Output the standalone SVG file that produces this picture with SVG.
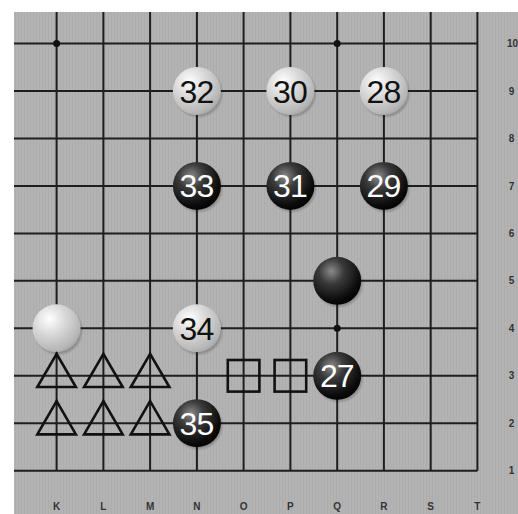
<svg xmlns="http://www.w3.org/2000/svg" width="518" height="514" viewBox="0 0 518 514">
<defs>
<pattern id="stripes" width="3" height="10" patternUnits="userSpaceOnUse">
<rect width="3" height="10" fill="#b3b3b3"/>
<rect x="0" width="1" height="10" fill="#adadad"/>
</pattern>
<radialGradient id="gw" cx="0.35" cy="0.3" r="0.75">
<stop offset="0" stop-color="#ffffff"/>
<stop offset="0.45" stop-color="#d8d8d8"/>
<stop offset="0.9" stop-color="#b5b5b5"/>
<stop offset="1" stop-color="#a5a5a5"/>
</radialGradient>
<radialGradient id="gb" cx="0.38" cy="0.3" r="0.75">
<stop offset="0" stop-color="#8a8a8a"/>
<stop offset="0.35" stop-color="#3a3a3a"/>
<stop offset="0.8" stop-color="#0c0c0c"/>
<stop offset="1" stop-color="#000000"/>
</radialGradient>
<radialGradient id="sh" cx="0.5" cy="0.5" r="0.5">
<stop offset="0.8" stop-color="#000" stop-opacity="0.3"/>
<stop offset="1" stop-color="#000" stop-opacity="0"/>
</radialGradient>
</defs>
<style>
.grid line{stroke:#1e1e1e;stroke-width:2}
.star{fill:#111}
.sw{fill:url(#gw)}
.sb{fill:url(#gb)}
.shadow{fill:url(#sh)}
.num{font-family:"Liberation Sans",Arial,sans-serif;font-size:32px;text-anchor:middle;letter-spacing:-1px}
.nw{fill:#111}
.nb{fill:#fff}
.mark{fill:none;stroke:#111;stroke-width:2.6;stroke-linejoin:miter}
.lbl{font-family:"Liberation Sans",Arial,sans-serif;font-size:10px;font-weight:bold;fill:#333;text-anchor:middle}
</style>
<rect x="0" y="0" width="518" height="514" fill="#ffffff"/>
<rect x="14" y="12" width="504" height="502" fill="url(#stripes)"/>
<g id="connectors" class="grid">
<line x1="56.6" y1="12" x2="56.6" y2="470.7"/>
<line x1="103.4" y1="12" x2="103.4" y2="470.7"/>
<line x1="150.1" y1="12" x2="150.1" y2="470.7"/>
<line x1="196.9" y1="12" x2="196.9" y2="470.7"/>
<line x1="243.6" y1="12" x2="243.6" y2="470.7"/>
<line x1="290.4" y1="12" x2="290.4" y2="470.7"/>
<line x1="337.2" y1="12" x2="337.2" y2="470.7"/>
<line x1="383.9" y1="12" x2="383.9" y2="470.7"/>
<line x1="430.7" y1="12" x2="430.7" y2="470.7"/>
<line x1="477.4" y1="12" x2="477.4" y2="470.7"/>
<line x1="14" y1="43.6" x2="477.4" y2="43.6"/>
<line x1="14" y1="91" x2="477.4" y2="91"/>
<line x1="14" y1="138.5" x2="477.4" y2="138.5"/>
<line x1="14" y1="185.9" x2="477.4" y2="185.9"/>
<line x1="14" y1="233.4" x2="477.4" y2="233.4"/>
<line x1="14" y1="280.8" x2="477.4" y2="280.8"/>
<line x1="14" y1="328.3" x2="477.4" y2="328.3"/>
<line x1="14" y1="375.8" x2="477.4" y2="375.8"/>
<line x1="14" y1="423.2" x2="477.4" y2="423.2"/>
<line x1="14" y1="470.7" x2="477.4" y2="470.7"/>
</g>
<g id="stars">
<circle class="star" cx="56.6" cy="43.6" r="3.5"/>
<circle class="star" cx="337.2" cy="43.6" r="3.5"/>
<circle class="star" cx="337.2" cy="328.3" r="3.5"/>
</g>
<g id="w32"><circle class="shadow" cx="198.5" cy="93" r="25.5"/><circle class="sw" cx="196.9" cy="91" r="24"/><text class="num nw" x="196.4" y="102.5">32</text></g>
<g id="w30"><circle class="shadow" cx="292" cy="93" r="25.5"/><circle class="sw" cx="290.4" cy="91" r="24"/><text class="num nw" x="289.9" y="102.5">30</text></g>
<g id="w28"><circle class="shadow" cx="385.5" cy="93" r="25.5"/><circle class="sw" cx="383.9" cy="91" r="24"/><text class="num nw" x="383.4" y="102.5">28</text></g>
<g id="b33"><circle class="shadow" cx="198.5" cy="188" r="25.5"/><circle class="sb" cx="196.9" cy="185.9" r="24"/><text class="num nb" x="196.4" y="197.4">33</text></g>
<g id="b31"><circle class="shadow" cx="292" cy="188" r="25.5"/><circle class="sb" cx="290.4" cy="185.9" r="24"/><text class="num nb" x="289.9" y="197.4">31</text></g>
<g id="b29"><circle class="shadow" cx="385.5" cy="188" r="25.5"/><circle class="sb" cx="383.9" cy="185.9" r="24"/><text class="num nb" x="383.4" y="197.4">29</text></g>
<g id="bQ5"><circle class="shadow" cx="338.8" cy="283" r="25.5"/><circle class="sb" cx="337.2" cy="280.8" r="24"/></g>
<g id="wK4"><circle class="shadow" cx="58.2" cy="330.5" r="25.5"/><circle class="sw" cx="56.6" cy="328.3" r="24"/></g>
<g id="w34"><circle class="shadow" cx="198.5" cy="330.5" r="25.5"/><circle class="sw" cx="196.9" cy="328.3" r="24"/><text class="num nw" x="196.4" y="339.8">34</text></g>
<g id="b27"><circle class="shadow" cx="338.8" cy="378" r="25.5"/><circle class="sb" cx="337.2" cy="375.8" r="24"/><text class="num nb" x="336.7" y="387.3">27</text></g>
<g id="b35"><circle class="shadow" cx="198.5" cy="425.4" r="25.5"/><circle class="sb" cx="196.9" cy="423.2" r="24"/><text class="num nb" x="196.4" y="434.7">35</text></g>
<g id="triK3"><polygon class="mark" points="56.6,353.8 37.3,387 75.9,387"/></g>
<g id="triL3"><polygon class="mark" points="103.4,353.8 84.1,387 122.7,387"/></g>
<g id="triM3"><polygon class="mark" points="150.1,353.8 130.8,387 169.4,387"/></g>
<g id="triK2"><polygon class="mark" points="56.6,401.2 37.3,434.4 75.9,434.4"/></g>
<g id="triL2"><polygon class="mark" points="103.4,401.2 84.1,434.4 122.7,434.4"/></g>
<g id="triM2"><polygon class="mark" points="150.1,401.2 130.8,434.4 169.4,434.4"/></g>
<g id="sqO3"><rect class="mark" x="227.8" y="360" width="31.6" height="31.6"/></g>
<g id="sqP3"><rect class="mark" x="274.6" y="360" width="31.6" height="31.6"/></g>
<g id="labels">
<text class="lbl" x="56.6" y="509.5">K</text>
<text class="lbl" x="103.4" y="509.5">L</text>
<text class="lbl" x="150.1" y="509.5">M</text>
<text class="lbl" x="196.9" y="509.5">N</text>
<text class="lbl" x="243.6" y="509.5">O</text>
<text class="lbl" x="290.4" y="509.5">P</text>
<text class="lbl" x="337.2" y="509.5">Q</text>
<text class="lbl" x="383.9" y="509.5">R</text>
<text class="lbl" x="430.7" y="509.5">S</text>
<text class="lbl" x="477.4" y="509.5">T</text>
<text class="lbl" x="512.5" y="47.2">10</text>
<text class="lbl" x="511.5" y="94.6">9</text>
<text class="lbl" x="511.5" y="142.1">8</text>
<text class="lbl" x="511.5" y="189.5">7</text>
<text class="lbl" x="511.5" y="237">6</text>
<text class="lbl" x="511.5" y="284.4">5</text>
<text class="lbl" x="511.5" y="331.9">4</text>
<text class="lbl" x="511.5" y="379.4">3</text>
<text class="lbl" x="511.5" y="426.8">2</text>
<text class="lbl" x="511.5" y="474.3">1</text>
</g>
</svg>
